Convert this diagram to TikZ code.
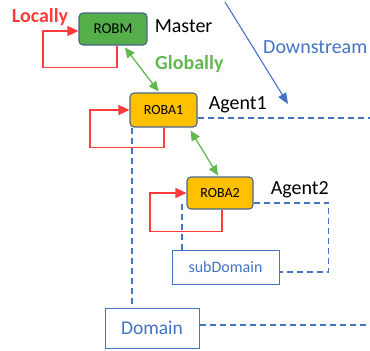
\documentclass[tikz,border=0pt]{standalone}
\usepackage{fontspec}
\setmainfont{Carlito}
\usetikzlibrary{positioning, arrows.meta}
\definecolor{robgreen}{RGB}{84,174,74}
\definecolor{robyellow}{RGB}{255,192,0}
\definecolor{robedge}{RGB}{72,100,140}
\definecolor{domblue}{RGB}{68,114,196}
\definecolor{locred}{RGB}{255,60,60}
\definecolor{globgreen}{RGB}{100,184,80}

\begin{document}
\begin{tikzpicture}[x=1pt, y=-1pt]
		\tikzstyle{rob_box}=[
		draw=robedge,
		line width=1.1pt,
		rectangle,
		rounded corners=4pt,
		inner sep=0pt,
		text centered]
		\tikzstyle{dom_box}=[
		draw=domblue,
		line width=1pt,
		fill=white,
		rectangle,
		inner sep=0pt,
		text=domblue]
		\tikzstyle{label_text}=[
		inner sep=0pt,
		font=\fontsize{20}{24}\selectfont]
		\tikzstyle{local_line}=[
		draw=locred,
		line width=1.3pt,
		-{Triangle[length=11pt,width=10pt]}]
		\tikzstyle{global_line}=[
		draw=globgreen,
		line width=1.3pt,
		{Triangle[length=10pt,width=9pt]}-{Triangle[length=10pt,width=9pt]}]
		\tikzstyle{dash_line}=[
		draw=domblue,
		line width=1.1pt,
		dash pattern=on 6pt off 4pt]
		\useasboundingbox (0,0) rectangle (370,351);
		\node[rob_box, fill=robgreen, minimum width=68pt, minimum height=32pt,
			font=\fontsize{15}{18}\selectfont] (M) at (113,29) {ROBM};
		\node[rob_box, fill=robyellow, minimum width=67pt, minimum height=34pt,
			font=\fontsize{14}{17}\selectfont] (A1) at (163.5,110) {ROBA1};
		\node[rob_box, fill=robyellow, minimum width=66pt, minimum height=32pt,
			font=\fontsize{14}{17}\selectfont] (A2) at (220,193) {ROBA2};
		\node[dom_box, minimum width=107pt, minimum height=34pt,
			font=\fontsize{16}{19}\selectfont] (SD) at (225.5,267) {subDomain};
		\node[dom_box, minimum width=94pt, minimum height=40pt,
			font=\fontsize{19.5}{23}\selectfont] (D) at (152,328) {Domain};
		%
		\node[label_text, right=7pt of M, yshift=3pt] (M_T) {Master};
		\node[label_text, right=11pt of A1, yshift=5pt] (A1_T) {Agent1};
		\node[label_text, right=17pt of A2, yshift=3pt] (A2_T) {Agent2};
		\node[label_text, text=locred, font=\bfseries\fontsize{20}{24}\selectfont] (L_T) at (40,17) {Locally};
		\node[label_text, text=globgreen, font=\bfseries\fontsize{20}{24}\selectfont, anchor=west] (G_T) at (155,64) {Globally};
		\node[label_text, text=domblue, anchor=west] (DS_T) at (263,47) {Downstream};
		%
		\coordinate (DS_start) at (225,2);
		\coordinate (DS_end) at (288,104);
		\coordinate (A1_far) at (370,118);
		\coordinate (D_far) at (370,325);
		%
		\draw[local_line] ([xshift=4pt]M.south) -- ++(0,22) -- ++(-74,0) |- ([yshift=-2pt]M.west);
		\draw[local_line] ([xshift=0.5pt]A1.south) -- ++(0,20) -- ++(-74,0) |- ([yshift=0pt]A1.west);
		\draw[local_line] ([xshift=2pt]A2.south) -- ++(0,22) -- ++(-72,0) |- (A2.west);
		%
		\draw[global_line] ([xshift=12pt,yshift=-2pt]M.south) -- ([xshift=-5pt,yshift=1pt]A1.north);
		\draw[global_line] ([xshift=-7pt,yshift=-3pt]A1.south east) -- ([xshift=-2pt,yshift=1pt]A2.north);
		%
		\draw[draw=domblue, line width=1.1pt, -{Triangle[length=11pt,width=9pt]}] (DS_start) -- (DS_end);
		%
		\draw[dash_line] ([yshift=-8pt]A1.east) -- (A1_far);
		\draw[dash_line] ([xshift=2.5pt]A1.south west) -- ([xshift=2.5pt]A1.south west |- D.north);
		\draw[dash_line] ([yshift=3pt]D.east) -- (D_far);
		\draw[dash_line] ([xshift=-4.5pt,yshift=6pt]A2.south west) -- ([xshift=-4.5pt]A2.south west |- SD.north);
		\draw[dash_line] ([yshift=-10pt]A2.east) -- ++(75,0) |- ([yshift=-5pt]SD.east);
	\end{tikzpicture}
\end{document}
